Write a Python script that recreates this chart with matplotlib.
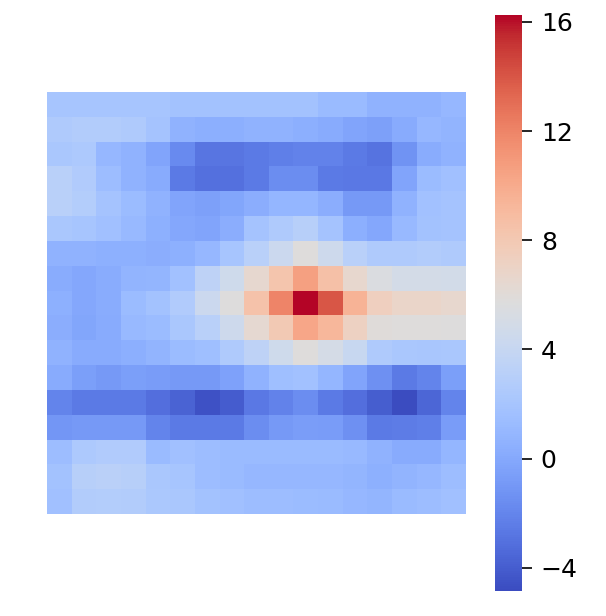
"""
Heatmap (coolwarm) of a 17x17 field with a single hot spot, plus colorbar.
"""

import numpy as np
import matplotlib
matplotlib.use("Agg")
import matplotlib.pyplot as plt

# ── Data (row 0 = top) ───────────────────────────────────────────────
ROWS = [
    [2.0, 2.0, 2.0, 2.0, 2.0, 1.8, 1.8, 1.8, 1.8, 1.8, 1.8, 1.2, 1.2, 0.6, 0.6, 0.6, 1.0],
    [2.5, 2.7, 2.7, 2.5, 1.9, 0.6, 0.4, 0.4, 0.6, 0.6, 0.4, 0.1, -0.3, -0.5, 0.1, 1.0, 0.7],
    [2.2, 2.4, 1.0, 0.6, -0.3, -1.8, -2.8, -2.8, -2.6, -2.3, -2.2, -2.2, -2.6, -2.9, -1.3, 0.2, 0.6],
    [3.1, 2.6, 1.4, 0.6, 0.1, -2.6, -3.1, -3.1, -2.6, -1.6, -1.6, -2.6, -2.7, -2.7, -0.3, 1.3, 1.6],
    [3.1, 2.8, 1.9, 1.3, 0.6, -0.3, -0.5, -0.2, 0.3, 0.9, 0.9, 0.3, -0.9, -0.9, 0.6, 1.7, 1.9],
    [2.2, 2.0, 1.6, 1.1, 0.5, -0.1, -0.3, 0.3, 1.9, 2.5, 3.0, 1.9, 0.4, -0.1, 1.1, 1.8, 1.9],
    [0.6, 0.6, 0.5, 0.5, 0.3, 0.5, 1.0, 2.0, 3.1, 4.3, 5.8, 4.5, 3.1, 2.5, 2.5, 2.7, 2.5],
    [0.2, -0.1, 0.2, 0.7, 0.8, 1.7, 3.4, 4.6, 6.5, 8.3, 10.6, 8.6, 6.6, 5.5, 4.9, 4.9, 4.8],
    [0.5, -0.1, 0.2, 1.3, 1.8, 2.6, 4.3, 5.7, 8.5, 12.0, 16.25, 14.0, 9.5, 7.4, 6.8, 6.8, 6.6],
    [0.3, -0.2, 0.1, 1.1, 1.3, 2.2, 3.1, 4.5, 6.4, 8.0, 10.3, 9.3, 7.2, 5.9, 5.8, 5.8, 5.7],
    [0.6, 0.1, 0.1, 0.4, 0.7, 1.3, 1.5, 2.5, 3.4, 4.6, 5.8, 5.0, 4.1, 2.5, 2.2, 2.1, 2.2],
    [0.1, -0.6, -0.9, -0.6, -0.8, -0.9, -0.9, -0.4, 0.6, 1.5, 1.7, 0.9, -0.3, -1.4, -2.6, -2.1, -0.6],
    [-2.1, -2.6, -2.6, -2.6, -3.2, -3.7, -4.6, -4.1, -2.7, -2.2, -1.6, -2.6, -3.2, -4.0, -4.85, -3.6, -2.1],
    [-1.1, -0.9, -0.9, -0.9, -2.1, -2.6, -2.6, -2.6, -1.6, -0.9, -0.7, -0.8, -1.4, -2.6, -2.5, -2.3, -0.8],
    [1.4, 2.4, 2.6, 2.6, 1.2, 1.6, 1.4, 1.2, 1.2, 1.2, 1.2, 1.2, 1.1, 0.6, 0.1, 0.1, 0.9],
    [1.8, 3.0, 3.2, 3.0, 2.2, 2.0, 1.4, 1.2, 1.0, 1.0, 1.0, 1.0, 0.8, 0.5, 0.7, 1.0, 1.4],
    [1.6, 2.7, 2.8, 2.7, 2.3, 2.2, 1.8, 1.6, 1.4, 1.4, 1.3, 1.2, 1.0, 0.8, 1.2, 1.4, 1.6],
]
CBAR_TICKS = [-4, 0, 4, 8, 12, 16]


def main():
    Z = np.array(ROWS)
    n_rows, n_cols = Z.shape

    fig = plt.figure(figsize=(6.06, 6.16), dpi=100)
    ax  = fig.add_axes([0.0776, 0.1656, 0.6914, 0.685])
    cax = fig.add_axes([0.8168, 0.0406, 0.0446, 0.935])

    mesh = ax.pcolormesh(np.arange(n_cols + 1), np.arange(n_rows + 1), Z,
                         cmap="coolwarm", vmin=Z.min(), vmax=Z.max(),
                         edgecolors="none")
    ax.set_xlim(0, n_cols)
    ax.set_ylim(n_rows, 0)
    ax.set_xticks([])
    ax.set_yticks([])
    for s in ax.spines.values():
        s.set_visible(False)

    cb = fig.colorbar(mesh, cax=cax, ticks=CBAR_TICKS)
    cb.outline.set_visible(False)
    cax.tick_params(labelsize=18, length=7.5, width=1.2, pad=6)

    fig.savefig("out.png", dpi=100)
    plt.close(fig)


if __name__ == "__main__":
    main()
